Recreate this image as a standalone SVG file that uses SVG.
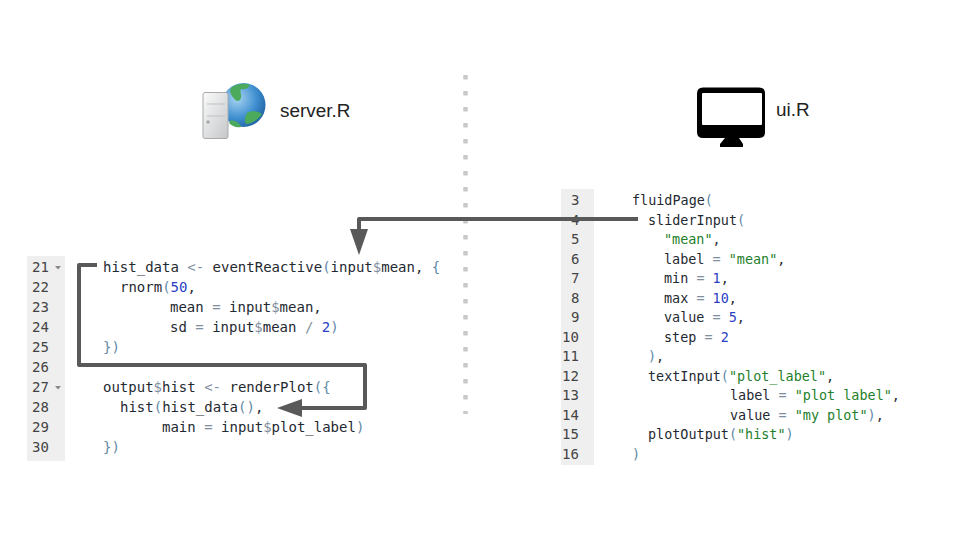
<svg xmlns="http://www.w3.org/2000/svg" width="960" height="540" viewBox="0 0 960 540">
<style>
.t{font-family:"Liberation Sans",Arial,sans-serif;font-size:18.900px;fill:#222}
.c{font-family:"DejaVu Sans Mono","Liberation Mono",monospace;fill:#1f2a32;white-space:pre}
.l{font-size:14px}
.r{font-size:13.450px}
.n{font-family:"DejaVu Sans Mono","Liberation Mono",monospace;fill:#444}
.nl{font-size:14px}
.nr{font-size:14px}
.g{fill:#1f7f2c}
.b{fill:#2a3fc4}
.o{fill:#7f8f9f}
.p{fill:#5f8aa8}
.w{fill:none;stroke:#595959;stroke-width:4;stroke-linejoin:round}
</style>
<defs>
<radialGradient id="globe" cx="0.35" cy="0.35" r="0.75"><stop offset="0" stop-color="#a8d4f2"/><stop offset="0.6" stop-color="#3f8fd0"/><stop offset="1" stop-color="#1d5f9c"/></radialGradient>
<linearGradient id="case" x1="0" x2="1" y1="0" y2="1"><stop offset="0" stop-color="#fbfbfb"/><stop offset="1" stop-color="#c4c6c8"/></linearGradient>
</defs>
<g id="divider"><line x1="465.500" y1="75" x2="465.500" y2="414" stroke="#c9c9c9" stroke-width="4.500" stroke-dasharray="4.500 11.500"/></g>
<g id="server-node">
<g id="server-icon">
<circle cx="243.500" cy="105" r="22" fill="url(#globe)"/>
<path d="M232 87C238 83 246 83 250 85C248 89 244 90 241 89C239 92 243 95 240 100C236 103 234 98 232 96C230 92 229 90 232 87ZM247 113C252 110 258 111 262 114C258 120 251 124 246 124C244 120 245 116 247 113ZM231 120C236 121 240 123 241 127C236 128 232 126 229 123Z" fill="#4caa5c"/>
<rect x="203" y="92.500" width="25" height="46" rx="2" fill="url(#case)" stroke="#a8aaac"/>
<path d="M207 104H225M207 116H225" stroke="#bfc1c3" fill="none"/>
<circle cx="208" cy="122" r="1.800" fill="#aaa"/>
</g>
<text class="t" x="280" y="117">server.R</text>
</g>
<g id="ui-node">
<g id="ui-icon">
<path d="M703 87.500H759Q765 87.500 765 93.500V132Q765 138 759 138H703Q697 138 697 132V93.500Q697 87.500 703 87.500Z" fill="#000"/>
<rect x="702" y="93" width="60" height="32" rx="1" fill="#fff"/>
<path d="M725 138H739L743 144V147H720V144Z" fill="#000"/>
</g>
<text class="t" x="776" y="116">ui.R</text>
</g>
<g id="server-code">
<rect x="27" y="256" width="38" height="205" fill="#efefef"/>
<g class="n nl">
<text x="32" y="272">21</text><text x="32" y="292">22</text><text x="32" y="312">23</text><text x="32" y="332">24</text><text x="32" y="352">25</text><text x="32" y="372">26</text><text x="32" y="392">27</text><text x="32" y="412">28</text><text x="32" y="432">29</text><text x="32" y="452">30</text>
</g>
<path d="M55 266H61L58 269.500ZM55 386H61L58 389.500Z" fill="#888"/>
<g class="c l">
<text x="103" y="272">hist_data <tspan class="o">&lt;-</tspan> eventReactive<tspan class="p">(</tspan>input<tspan class="o">$</tspan>mean, <tspan class="p">{</tspan></text>
<text x="120" y="292">rnorm<tspan class="p">(</tspan><tspan class="b">50</tspan>,</text>
<text x="170" y="312">mean <tspan class="o">=</tspan> input<tspan class="o">$</tspan>mean,</text>
<text x="170" y="332">sd <tspan class="o">=</tspan> input<tspan class="o">$</tspan>mean <tspan class="o">/</tspan> <tspan class="b">2</tspan><tspan class="p">)</tspan></text>
<text x="103" y="352"><tspan class="p">})</tspan></text>
<text x="103" y="392">output<tspan class="o">$</tspan>hist <tspan class="o">&lt;-</tspan> renderPlot<tspan class="p">({</tspan></text>
<text x="120" y="412">hist<tspan class="p">(</tspan>hist_data<tspan class="p">()</tspan>,</text>
<text x="162" y="432">main <tspan class="o">=</tspan> input<tspan class="o">$</tspan>plot_label<tspan class="p">)</tspan></text>
<text x="103" y="452"><tspan class="p">})</tspan></text>
</g>
</g>
<g id="ui-code">
<rect x="561" y="189" width="33" height="276" fill="#efefef"/>
<g class="n nr">
<text x="571" y="205">3</text><text x="571" y="224.500">4</text><text x="571" y="244">5</text><text x="571" y="263.500">6</text><text x="571" y="283">7</text><text x="571" y="302.500">8</text><text x="571" y="322">9</text><text x="562" y="342">10</text><text x="562" y="361">11</text><text x="562" y="380.500">12</text><text x="562" y="400">13</text><text x="562" y="419.500">14</text><text x="562" y="439">15</text><text x="562" y="458.500">16</text>
</g>
<g class="c r">
<text x="632" y="205">fluidPage<tspan class="p">(</tspan></text>
<text x="648" y="224.500">sliderInput<tspan class="p">(</tspan></text>
<text x="664" y="244"><tspan class="g">"mean"</tspan>,</text>
<text x="664" y="263.500">label <tspan class="o">=</tspan> <tspan class="g">"mean"</tspan>,</text>
<text x="664" y="283">min <tspan class="o">=</tspan> <tspan class="b">1</tspan>,</text>
<text x="664" y="302.500">max <tspan class="o">=</tspan> <tspan class="b">10</tspan>,</text>
<text x="664" y="322">value <tspan class="o">=</tspan> <tspan class="b">5</tspan>,</text>
<text x="664" y="342">step <tspan class="o">=</tspan> <tspan class="b">2</tspan></text>
<text x="648" y="361"><tspan class="p">)</tspan>,</text>
<text x="648" y="380.500">textInput<tspan class="p">(</tspan><tspan class="g">"plot_label"</tspan>,</text>
<text x="730" y="400">label <tspan class="o">=</tspan> <tspan class="g">"plot label"</tspan>,</text>
<text x="730" y="419.500">value <tspan class="o">=</tspan> <tspan class="g">"my plot"</tspan><tspan class="p">)</tspan>,</text>
<text x="648" y="439">plotOutput<tspan class="p">(</tspan><tspan class="g">"hist"</tspan><tspan class="p">)</tspan></text>
<text x="632" y="458.500"><tspan class="p">)</tspan></text>
</g>
</g>
<g id="connectors">
<path class="w" d="M638 219H359V230"/>
<path d="M350 229H368L359 255Z" fill="#595959"/>
<path class="w" d="M97 265H79V365H365V408H300"/>
<path d="M302 399V417L277 408Z" fill="#595959"/>
</g>
</svg>
